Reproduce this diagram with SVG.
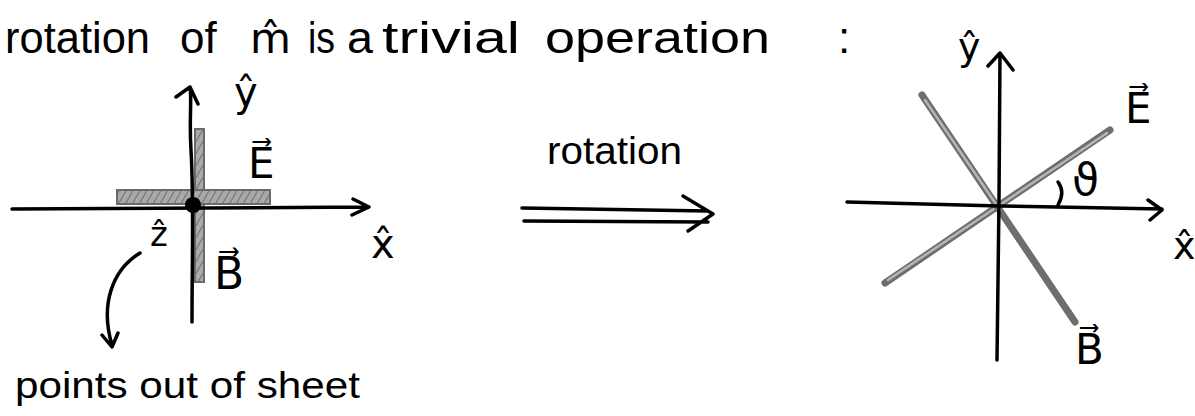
<svg xmlns="http://www.w3.org/2000/svg" width="1195" height="416" viewBox="0 0 1195 416">
<defs>
<style>
.ink{fill:none;stroke:#000;stroke-width:3.5;stroke-linecap:round;stroke-linejoin:round}
.hand{font-family:"Liberation Sans","DejaVu Sans",sans-serif;fill:#000}
.lab{font-family:"DejaVu Sans","Liberation Sans",sans-serif;fill:#000}
.bar{fill:url(#hatch);stroke:#6a6a6a;stroke-width:2}
.rod{fill:none;stroke:#6e6e6e;stroke-width:7;stroke-linecap:round}
.rodin{fill:none;stroke:#b5b5b5;stroke-width:2.5;stroke-linecap:round}
</style>
<pattern id="hatch" width="6" height="6" patternUnits="userSpaceOnUse" patternTransform="rotate(30)">
<rect width="6" height="6" fill="#a9a9a9"/>
<line x1="0" y1="0" x2="0" y2="6" stroke="#6f6f6f" stroke-width="2"/>
</pattern>
</defs>
<rect width="1195" height="416" fill="#fff"/>

<g id="title">
<text class="hand" font-size="44" y="53">
<tspan x="5" textLength="145" lengthAdjust="spacingAndGlyphs">rotation</tspan>
<tspan x="180">of</tspan>
<tspan x="250" class="lab" font-size="42">m̂</tspan>
<tspan x="308" textLength="27" lengthAdjust="spacingAndGlyphs">is</tspan>
<tspan x="347" textLength="26" lengthAdjust="spacingAndGlyphs">a</tspan>
<tspan x="382" textLength="138" lengthAdjust="spacingAndGlyphs">trivial</tspan>
<tspan x="545" textLength="225" lengthAdjust="spacingAndGlyphs">operation</tspan>
<tspan x="838">:</tspan>
</text>
</g>

<g id="left-diagram">
<rect class="bar" x="195" y="129" width="9" height="153"/>
<rect class="bar" x="117" y="190" width="153" height="14"/>
<path class="ink" d="M12,209 L368,207 M353,199 L369,207 L352,215"/>
<path class="ink" d="M192,322 C192,260 194,200 191,150 C189,120 192,100 190,87 M176,97 L190,87 L198,104"/>
<circle cx="193" cy="205" r="8" fill="#000"/>
<text class="lab" font-size="40" x="234" y="106">ŷ</text>
<text class="lab" font-size="42" x="248" y="178">E⃗</text>
<text class="lab" font-size="34" x="150" y="246">ẑ</text>
<text class="lab" font-size="44" x="214" y="289">B⃗</text>
<text class="lab" font-size="40" x="371" y="258">x̂</text>
<path class="ink" d="M140,253 C112,270 100,305 112,345 M102,335 L112,347 L118,333"/>
<text class="hand" font-size="36" x="15" y="398" textLength="345" lengthAdjust="spacingAndGlyphs">points out of sheet</text>
</g>

<g id="rotation-arrow">
<text class="hand" font-size="38" x="547" y="164" textLength="135" lengthAdjust="spacingAndGlyphs">rotation</text>
<path class="ink" d="M522,208 L708,211 M524,221 L708,222 M683,196 L713,214 L688,231"/>
</g>

<g id="right-diagram">
<path class="rod" d="M885,283 L1110,130"/>
<path class="rodin" d="M888,280 L1107,133"/>
<path class="rod" d="M922,95 L1075,322"/>
<path class="rodin" d="M925,100 L1000,210"/>
<path class="ink" d="M847,202 L1000,206 L1162,209 M1148,200 L1162,210 L1150,220"/>
<path class="ink" d="M997,360 L999,200 L1000,53 M988,66 L1000,53 L1013,70"/>
<path class="ink" d="M1058,182 C1064,190 1062,198 1058,205"/>
<text class="lab" font-size="38" x="958" y="60">ŷ</text>
<text class="lab" font-size="42" x="1125" y="123">E⃗</text>
<text class="lab" font-size="44" x="1072" y="195">ϑ</text>
<text class="lab" font-size="38" x="1173" y="259">x̂</text>
<text class="lab" font-size="42" x="1075" y="364">B⃗</text>
</g>
</svg>
